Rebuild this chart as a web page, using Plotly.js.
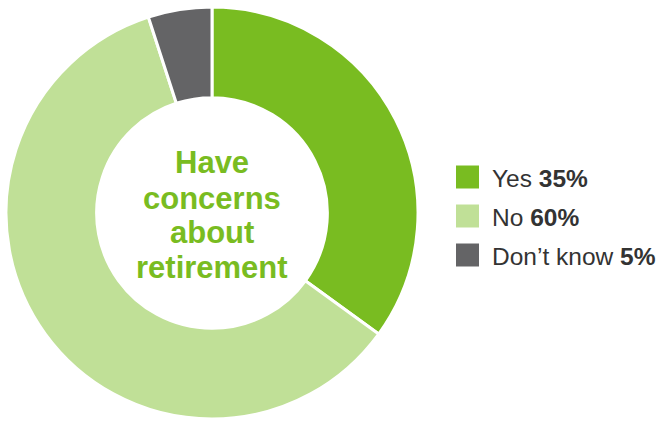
<!DOCTYPE html>
<html>
<head>
<meta charset="utf-8">
<script src="https://cdn.plot.ly/plotly-3.0.1.min.js"></script>
<style>html,body{margin:0;padding:0;background:#fff;}#chart{width:667px;height:422px;}</style>
</head>
<body>
<div id="chart"></div>
<script>
const categories = ["Yes", "No", "Don\u2019t know"];
const values = [35, 60, 5];
const valueLabels = ["35%", "60%", "5%"];
const colors = ["#79BC21", "#C0E097", "#646466"];
const centerLines = ["Have", "concerns", "about", "retirement"];

const W = 667, H = 422;
const px = x => x / W;
const py = y => 1 - y / H;

const trace = {
  type: "pie",
  labels: categories,
  values: values,
  sort: false,
  direction: "clockwise",
  rotation: 0,
  hole: 0.56,
  marker: { colors: colors, line: { color: "#ffffff", width: 3 } },
  textinfo: "none",
  hoverinfo: "label+percent",
  showlegend: false,
  domain: { x: [px(6), px(418)], y: [py(419), py(7)] }
};

const shapes = [];
const annotations = [];
const rowY = [177, 216, 255];
categories.forEach((c, i) => {
  shapes.push({
    type: "rect", xref: "paper", yref: "paper",
    x0: px(456), x1: px(479), y0: py(rowY[i] + 11.5), y1: py(rowY[i] - 11.5),
    fillcolor: colors[i], line: { width: 0 }
  });
  annotations.push({
    xref: "paper", yref: "paper", x: px(490), y: py(rowY[i] + 1),
    xanchor: "left", yanchor: "middle", showarrow: false,
    text: c + " <b>" + valueLabels[i] + "</b>",
    font: { family: "Liberation Sans, Arial, sans-serif", size: 24.5, color: "#333333" }
  });
});
const lineY = [163, 198, 232, 267];
centerLines.forEach((t, i) => {
  annotations.push({
    xref: "paper", yref: "paper", x: px(212), y: py(lineY[i]),
    xanchor: "center", yanchor: "middle", showarrow: false,
    text: "<b>" + t + "</b>",
    font: { family: "Liberation Sans, Arial, sans-serif", size: 31, color: "#79BC21" }
  });
});

const layout = {
  width: W, height: H,
  margin: { l: 0, r: 0, t: 0, b: 0 },
  paper_bgcolor: "#ffffff",
  plot_bgcolor: "#ffffff",
  showlegend: false,
  shapes: shapes,
  annotations: annotations
};

Plotly.newPlot("chart", [trace], layout, { displayModeBar: false, staticPlot: true });
</script>
</body>
</html>
